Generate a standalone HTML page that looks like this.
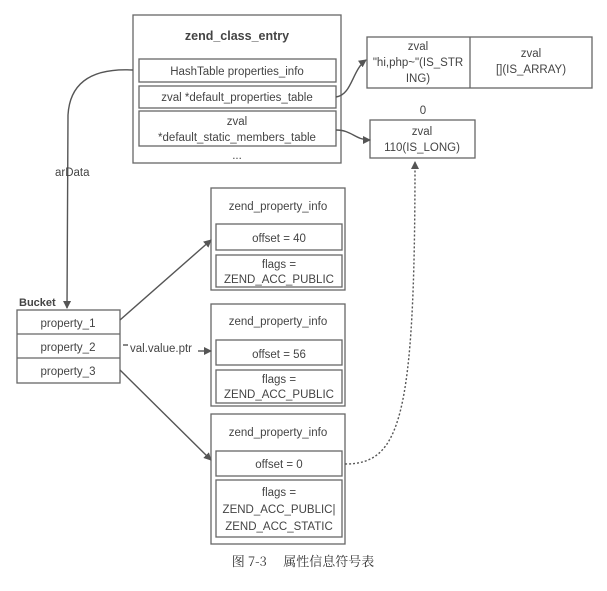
<!DOCTYPE html>
<html><head><meta charset="utf-8"><style>
body{margin:0;background:#fff;width:607px;height:586px;overflow:hidden;font-family:"Liberation Sans","Noto Sans CJK SC",sans-serif;}
</style></head><body>
<svg width="607" height="586" viewBox="0 0 607 586" xmlns="http://www.w3.org/2000/svg" font-family="Liberation Sans, Noto Sans CJK SC, sans-serif" font-size="11.5" fill="#444">
<defs><marker id="a" markerWidth="8" markerHeight="8" refX="7" refY="4" orient="auto" markerUnits="userSpaceOnUse"><path d="M0,0 L8,4 L0,8 z" fill="#555"/></marker></defs>
<g fill="none" stroke="#666" stroke-width="1.3">
<rect x="133" y="15" width="208" height="148"/>
<rect x="139" y="59" width="197" height="23"/>
<rect x="139" y="86" width="197" height="22"/>
<rect x="139" y="111" width="197" height="35"/>
<rect x="367" y="37" width="225" height="51"/>
<line x1="470" y1="37" x2="470" y2="88"/>
<rect x="370" y="120" width="105" height="38"/>
<rect x="211" y="188" width="134" height="102"/>
<rect x="216" y="224" width="126" height="26"/>
<rect x="216" y="255" width="126" height="32"/>
<rect x="211" y="304" width="134" height="102"/>
<rect x="216" y="340" width="126" height="25"/>
<rect x="216" y="370" width="126" height="33"/>
<rect x="211" y="414" width="134" height="130"/>
<rect x="216" y="451" width="126" height="25"/>
<rect x="216" y="480" width="126" height="57"/>
<rect x="17" y="310" width="103" height="73"/>
<line x1="17" y1="334" x2="120" y2="334"/>
<line x1="17" y1="358" x2="120" y2="358"/>
</g>
<g fill="none" stroke="#555" stroke-width="1.4">
<path d="M133,70 C95,68 70,80 68,115 L67,308" marker-end="url(#a)"/>
<path d="M336,97 C352,95 352,70 366,60" marker-end="url(#a)"/>
<path d="M336,130 C352,130 355,140 370,140" marker-end="url(#a)"/>
<path d="M120,320 L211,240" marker-end="url(#a)"/>
<path d="M123,345 L128,345"/>
<path d="M198,351 L211,351" marker-end="url(#a)"/>
<path d="M120,370 L211,460" marker-end="url(#a)"/>
<path d="M345,464 C400,464 415,420 415,162" stroke-dasharray="2,2" marker-end="url(#a)"/>
</g>
<g text-anchor="middle">
<text x="237" y="40" font-weight="bold" font-size="12.5">zend_class_entry</text>
<text x="237" y="75">HashTable properties_info</text>
<text x="237" y="101">zval *default_properties_table</text>
<text x="237" y="125">zval</text>
<text x="237" y="141">*default_static_members_table</text>
<text x="237" y="159">...</text>
<text x="418" y="50">zval</text>
<text x="418" y="66">"hi,php~"(IS_STR</text>
<text x="418" y="82">ING)</text>
<text x="531" y="57">zval</text>
<text x="531" y="73">[](IS_ARRAY)</text>
<text x="423" y="114">0</text>
<text x="422" y="135">zval</text>
<text x="422" y="151">110(IS_LONG)</text>
<text x="278" y="210">zend_property_info</text>
<text x="279" y="242">offset = 40</text>
<text x="279" y="268">flags =</text>
<text x="279" y="283">ZEND_ACC_PUBLIC</text>
<text x="278" y="325">zend_property_info</text>
<text x="279" y="358">offset = 56</text>
<text x="279" y="383">flags =</text>
<text x="279" y="398">ZEND_ACC_PUBLIC</text>
<text x="278" y="436">zend_property_info</text>
<text x="279" y="468">offset = 0</text>
<text x="279" y="496">flags =</text>
<text x="279" y="513">ZEND_ACC_PUBLIC|</text>
<text x="279" y="530">ZEND_ACC_STATIC</text>
<text x="68" y="327">property_1</text>
<text x="68" y="351">property_2</text>
<text x="68" y="375">property_3</text>
</g>
<text x="19" y="306" font-weight="bold" font-size="11">Bucket</text>
<text x="55" y="176">arData</text>
<text x="130" y="352">val.value.ptr</text>
<text x="303" y="566" text-anchor="middle" font-size="13" font-family="Noto Serif CJK SC, serif" fill="#333">图 7-3　 属性信息符号表</text>
</svg>
</body></html>
